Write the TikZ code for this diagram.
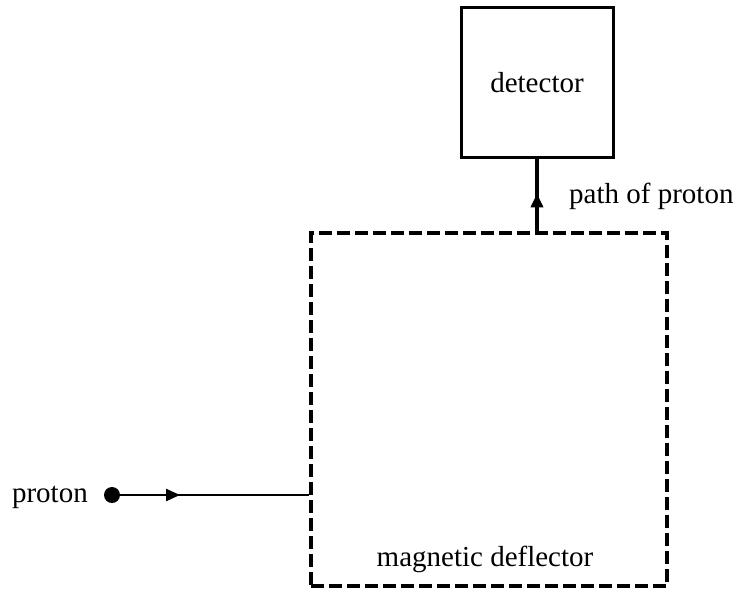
\documentclass[tikz,border=0pt]{standalone}
\usepackage{fontspec}
\setmainfont{Liberation Serif}
\usetikzlibrary{arrows.meta,decorations.markings}
\begin{document}
\begin{tikzpicture}[x=1pt,y=-1pt,
  lbl/.style={font=\fontsize{29}{33}\selectfont, inner sep=0pt},
  solidbox/.style={draw, line width=3pt, minimum width=152pt, minimum height=150pt, inner sep=0pt},
  dashbox/.style={draw, line width=3.2pt, dash pattern=on 13pt off 5pt, minimum width=356pt, minimum height=353pt, inner sep=0pt},
  midarrow/.style={postaction={decorate}, decoration={markings, mark=at position #1 with {\arrow{Triangle[length=14pt,width=12pt]}}}}
]
\useasboundingbox (0,0) rectangle (737,592);
\node[solidbox] (detector) at (537,82) {};
\node[lbl, anchor=base] (detlabel) at (537,92) {detector};
\node[dashbox] (deflector) at (489,409.5) {};
\node[lbl, anchor=base] (deflabel) at (485,566) {magnetic deflector};
\node[circle, fill, inner sep=0pt, minimum size=16pt] (dot) at (112,495) {};
\node[lbl, anchor=base east] (protonlabel) at (88,502) {proton};
\node[lbl, anchor=base west] (pathlabel) at (569,203) {path of proton};
\draw[line width=2.4pt, midarrow=68pt] (dot.center) -- (dot.center -| deflector.west);
\draw[line width=3.4pt, midarrow=38pt] (detector.south |- deflector.north) -- (detector.south);
\end{tikzpicture}
\end{document}
